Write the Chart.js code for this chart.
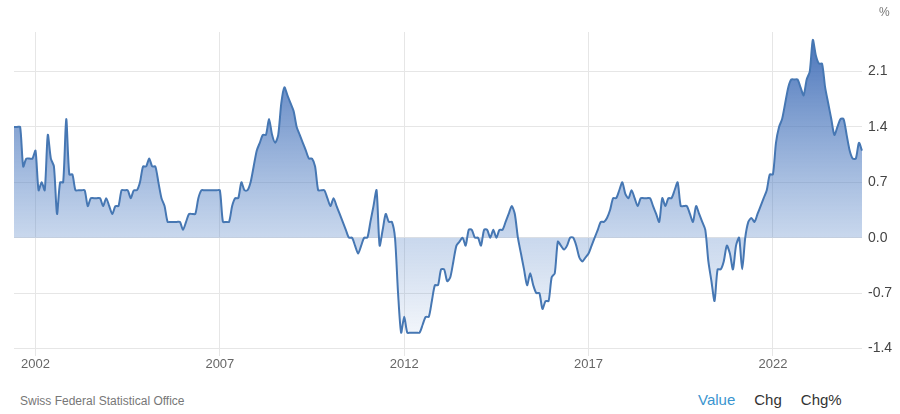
<!DOCTYPE html>
<html><head><meta charset="utf-8">
<script src="https://cdn.jsdelivr.net/npm/chart.js@4/dist/chart.umd.min.js"></script>
<style>
body{margin:0;background:#fff;font-family:"Liberation Sans",Arial,sans-serif;}
#wrap{position:absolute;left:0;top:0;width:900px;height:372px;}
#pct{position:absolute;left:879px;top:5px;font-size:12px;color:#777;}
#src{position:absolute;left:20px;top:394px;font-size:12px;color:#777;}
#btns{position:absolute;left:698px;top:391px;font-size:15px;color:#333;}
#btns span{margin-right:19px;}
</style></head><body>
<div id="wrap"><canvas id="c"></canvas></div>
<div id="pct">%</div>
<div id="src">Swiss Federal Statistical Office</div>
<div id="btns"><span style="color:#3a95cf">Value</span><span>Chg</span><span>Chg%</span></div>
<script>
const startYear = 2001, startMonth = 6;
const values = [
1.4,1.4,1.4,0.9,1.0,1.0,1.0,
1.1,0.6,0.7,0.6,1.3,1.0,0.9,0.3,0.7,0.7,1.5,0.8,
0.8,0.6,0.6,0.6,0.6,0.4,0.5,0.5,0.5,0.5,0.4,0.5,
0.4,0.3,0.4,0.4,0.6,0.6,0.6,0.5,0.6,0.6,0.7,0.9,
0.9,1.0,0.9,0.9,0.7,0.5,0.4,0.2,0.2,0.2,0.2,0.2,
0.1,0.2,0.3,0.3,0.3,0.5,0.6,0.6,0.6,0.6,0.6,0.6,
0.6,0.2,0.2,0.2,0.4,0.5,0.5,0.7,0.6,0.6,0.7,0.9,
1.1,1.2,1.3,1.3,1.5,1.3,1.2,1.3,1.7,1.9,1.8,1.7,
1.6,1.4,1.3,1.2,1.1,1.0,1.0,0.9,0.6,0.6,0.6,0.5,
0.4,0.5,0.4,0.3,0.2,0.1,0.0,0.0,-0.1,-0.2,-0.1,0.0,
0.0,0.2,0.4,0.6,-0.1,0.1,0.3,0.2,0.2,0.0,-0.7,-1.2,
-1.0,-1.2,-1.2,-1.2,-1.2,-1.2,-1.1,-1.0,-1.0,-0.8,-0.6,-0.6,
-0.4,-0.4,-0.55,-0.5,-0.3,-0.1,-0.05,0.0,-0.1,0.1,0.1,0.0,
0.0,-0.1,0.1,0.1,0.0,0.1,0.0,0.1,0.1,0.2,0.3,0.4,
0.3,0.0,-0.2,-0.4,-0.6,-0.45,-0.6,-0.7,-0.7,-0.9,-0.8,-0.8,
-0.5,-0.45,-0.05,-0.1,-0.15,-0.1,0.0,0.0,-0.1,-0.25,-0.3,-0.25,
-0.2,-0.1,0.0,0.1,0.2,0.2,0.25,0.35,0.5,0.5,0.6,0.7,
0.55,0.5,0.6,0.5,0.4,0.5,0.5,0.5,0.5,0.4,0.3,0.2,
0.5,0.4,0.5,0.5,0.6,0.7,0.4,0.4,0.4,0.3,0.2,0.4,
0.3,0.2,0.1,-0.3,-0.55,-0.8,-0.4,-0.4,-0.3,-0.1,-0.2,-0.4,
-0.1,0.0,-0.4,0.0,0.2,0.25,0.2,0.3,0.4,0.5,0.6,0.8,
0.8,1.2,1.4,1.5,1.7,1.9,2.0,2.0,2.0,1.9,1.8,2.0,
2.1,2.5,2.3,2.2,2.2,1.9,1.7,1.5,1.3,1.4,1.5,1.5,
1.3,1.1,1.0,1.0,1.2,1.1
];
const yTicks = [-1.4,-0.7,0.0,0.7,1.4,2.1];
const xTickYears = [2002,2007,2012,2017,2022];
const labels = values.map((v,i)=>{const t=startMonth-1+i;return (startYear+Math.floor(t/12))+'-'+String(t%12+1).padStart(2,'0');});
const isTick = l => l.endsWith('-01') && xTickYears.includes(+l.slice(0,4));

new Chart(document.getElementById('c'),{
 type:'line',
 data:{labels,datasets:[{data:values,borderColor:'#4677b3',borderWidth:2,pointRadius:0,tension:0.25,
  fill:'origin',
  backgroundColor:(ctx)=>{const a=ctx.chart.chartArea;if(!a)return 'rgba(80,120,190,0.5)';
    const y0=ctx.chart.scales.y.getPixelForValue(0);
    const g=ctx.chart.ctx.createLinearGradient(0,a.top,0,a.bottom);
    const f=(y0-a.top)/(a.bottom-a.top);
    g.addColorStop(0,'rgba(60,105,180,0.95)');
    g.addColorStop(f,'rgba(90,135,200,0.33)');
    g.addColorStop(1,'rgba(90,135,200,0.02)');
    return g;}}]},
 options:{responsive:true,maintainAspectRatio:false,animation:false,
  layout:{padding:{left:14,top:32,right:0,bottom:0}},
  plugins:{legend:{display:false},tooltip:{enabled:false}},
  scales:{
   x:{offset:false,grid:{color:c=>isTick(labels[c.index]||'')?'#e6e6e6':'transparent',drawTicks:false},border:{display:false},
     ticks:{autoSkip:false,maxRotation:0,padding:0,color:'#666',font:{size:13,family:'Liberation Sans'},
       callback:(v,i)=>isTick(labels[i])?labels[i].slice(0,4):''}},
   y:{position:'right',min:-1.5,max:2.6,afterBuildTicks:s=>{s.ticks=yTicks.map(v=>({value:v}));},
     afterFit:s=>{s.width=38;},
     grid:{color:'#e6e6e6',drawTicks:false},border:{display:false},
     ticks:{padding:6,color:'#444',font:{size:14,family:'Liberation Sans'},callback:v=>v.toFixed(1)}}
  }}
});
</script></body></html>
